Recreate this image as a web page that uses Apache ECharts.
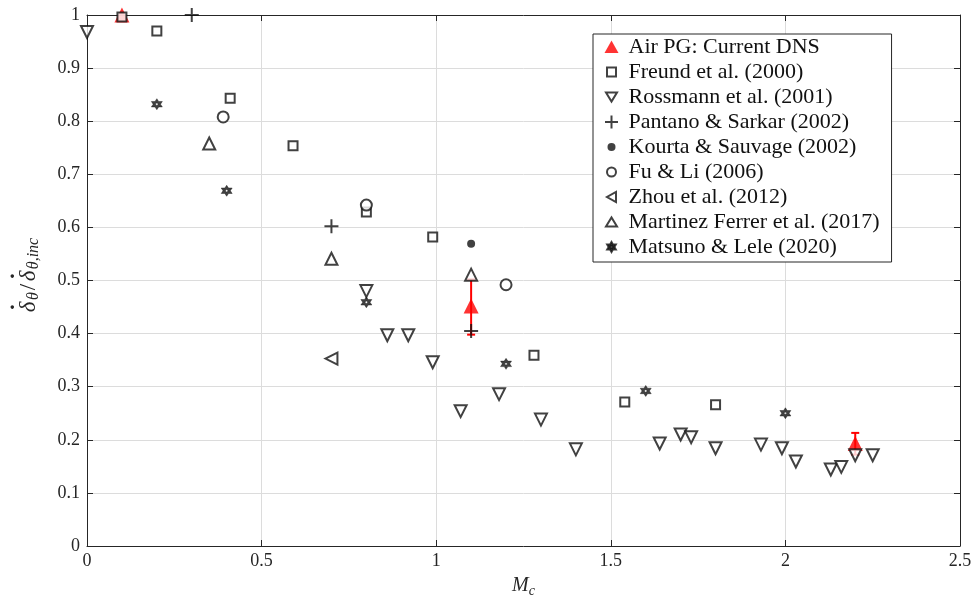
<!DOCTYPE html>
<html><head><meta charset="utf-8">
<script src="https://cdn.jsdelivr.net/npm/echarts@6/dist/echarts.min.js"></script>
<style>html,body{margin:0;padding:0;background:#fff}#c{width:978px;height:598px}</style>
</head><body><div id="c"></div>
<script>
// ---- data ----
var xTicks = [0, 0.5, 1, 1.5, 2, 2.5];
var yTicks = [0, 0.1, 0.2, 0.3, 0.4, 0.5, 0.6, 0.7, 0.8, 0.9, 1];
var airPG = [[0.1, 1.0], [1.1, 0.452], [2.2, 0.193]];
var airPGErr = [[1.1, 0.398, 0.502], [2.2, 0.172, 0.213]];
var freund = [[0.1, 0.996], [0.2, 0.970], [0.41, 0.843], [0.59, 0.754], [0.8, 0.629], [0.99, 0.582], [1.28, 0.359], [1.54, 0.271], [1.8, 0.266]];
var rossmann = [[0, 0.968], [0.8, 0.48], [0.86, 0.397], [0.92, 0.397], [0.99, 0.346], [1.07, 0.254], [1.18, 0.286], [1.3, 0.238], [1.4, 0.182], [1.64, 0.193], [1.7, 0.21], [1.73, 0.205], [1.8, 0.184], [1.93, 0.191], [1.99, 0.184], [2.03, 0.159], [2.13, 0.144], [2.16, 0.149], [2.2, 0.171], [2.25, 0.171]];
var pantano = [[0.3, 1.0], [0.7, 0.602], [1.1, 0.405]];
var kourta = [[1.1, 0.569]];
var fuLi = [[0.39, 0.808], [0.8, 0.642], [1.2, 0.492]];
var zhou = [[0.7, 0.353]];
var martinez = [[0.35, 0.758], [0.7, 0.541], [1.1, 0.511]];
var matsuno = [[0.2, 0.832], [0.4, 0.669], [0.8, 0.459], [1.2, 0.343], [1.6, 0.292], [2.0, 0.25]];
var names = ['Air PG: Current DNS', 'Freund et al. (2000)', 'Rossmann et al. (2001)', 'Pantano & Sarkar (2002)', 'Kourta & Sauvage (2002)', 'Fu & Li (2006)', 'Zhou et al. (2012)', 'Martinez Ferrer et al. (2017)', 'Matsuno & Lele (2020)'];

var serif = 'Liberation Serif';
var ink = '#111';
var txt = '#262626';
var hollow = {color: '#fff', borderColor: ink, borderWidth: 2};

function starPathStr(cx, cy, R, hole) {
  var r = R / Math.sqrt(3), pts = [], i, a;
  for (i = 0; i < 12; i++) {
    a = (-90 + i * 30) * Math.PI / 180;
    var rr = (i % 2 === 0) ? R : r;
    pts.push((cx + rr * Math.cos(a)).toFixed(2) + ',' + (cy + rr * Math.sin(a)).toFixed(2));
  }
  var s = 'M' + pts.join('L') + 'Z';
  var h = [];
  for (i = 5; i >= 0; i--) {
    a = (-90 + i * 60) * Math.PI / 180;
    h.push((cx + hole * Math.cos(a)).toFixed(2) + ',' + (cy + hole * Math.sin(a)).toFixed(2));
  }
  return s + 'M' + h.join('L') + 'Z';
}
var plusPath = 'path://M0,5L10,5M5,0L5,10';
var starPath = 'path://' + starPathStr(5, 5, 5, 1.1);

// legend icons in a padded 20x14 box (corner moves set the box)
var box = 'path://M0,0M20,14M0,0';
var legIcons = [
  'path://M0,0M20,14M1,13L15,13L8,0.5Z',
  box + 'M3.5,2.5L12.5,2.5L12.5,11.5L3.5,11.5Z',
  box + 'M2.5,2.5L13.5,2.5L8,11.5Z',
  box + 'M1.5,7L14.5,7M8,0.5L8,13.5',
  box + 'M4,7A4,4 0 1,0 12,7A4,4 0 1,0 4,7Z',
  box + 'M3.5,7A4.5,4.5 0 1,0 12.5,7A4.5,4.5 0 1,0 3.5,7Z',
  box + 'M12.5,2L12.5,12L3.5,7Z',
  box + 'M2.5,11.5L13.5,11.5L8,2.5Z',
  box + starPathStr(8, 7, 5, 1.1)
];

function sc(name, data, sym, size, style, rot) {
  return {type: 'scatter', name: name, data: data, symbol: sym, symbolSize: size,
    symbolRotate: rot || 0, itemStyle: style, xAxisIndex: 0, yAxisIndex: 0, z: 3};
}

var chart = echarts.init(document.getElementById('c'));
var axisLineStyle = {color: '#262626', width: 1};
var yName = '{dt|·}{g1|}{dt|·}{g2|}\n{a|δ}{b1|θ}{s|/}{a|δ}{b2|θ,inc}';
chart.setOption({
  animation: false,
  backgroundColor: '#fff',
  grid: {left: 87, right: 18, top: 15, bottom: 52, containLabel: false, outerBoundsMode: 'none'},
  xAxis: [{
    type: 'value', min: 0, max: 2.5, interval: 0.5, position: 'bottom',
    axisLine: {show: true, onZero: false, lineStyle: axisLineStyle},
    axisTick: {show: true, inside: true, length: 6, lineStyle: axisLineStyle},
    axisLabel: {fontFamily: serif, fontSize: 18, color: txt, margin: 6,
      formatter: function (v) { return xTicks.indexOf(v) >= 0 ? String(v) : ''; }},
    splitLine: {show: true, lineStyle: {color: '#dcdcdc', width: 1}},
    name: '{m|M}{s|c}', nameLocation: 'middle', nameGap: 28,
    nameTextStyle: {rich: {
      m: {fontFamily: serif, fontStyle: 'italic', fontSize: 20, color: txt},
      s: {fontFamily: serif, fontStyle: 'italic', fontSize: 14, color: txt, padding: [10, 0, 0, 0]}
    }}
  }, {
    type: 'value', min: 0, max: 2.5, interval: 0.5, position: 'top',
    axisLine: {show: true, onZero: false, lineStyle: axisLineStyle},
    axisTick: {show: true, inside: true, length: 6, lineStyle: axisLineStyle},
    axisLabel: {show: false}, splitLine: {show: false}
  }],
  yAxis: [{
    type: 'value', min: 0, max: 1, interval: 0.1, position: 'left',
    axisLine: {show: true, onZero: false, lineStyle: axisLineStyle},
    axisTick: {show: true, inside: true, length: 6, lineStyle: axisLineStyle},
    axisLabel: {fontFamily: serif, fontSize: 18, color: txt, margin: 7,
      formatter: function (v) { var r = Math.round(v * 10) / 10; return yTicks.indexOf(r) >= 0 ? String(r) : ''; }},
    splitLine: {show: true, lineStyle: {color: '#dcdcdc', width: 1}},
    name: yName, nameLocation: 'middle', nameGap: 45, nameRotate: 90,
    nameTextStyle: {padding: [0, 0, 0, 10], rich: {
      dt: {fontFamily: serif, fontSize: 22, fontWeight: 'bold', color: txt, width: 13, align: 'center', lineHeight: 4, verticalAlign: 'middle'},
      g1: {width: 18, lineHeight: 4},
      g2: {width: 32, lineHeight: 4},
      a: {fontFamily: serif, fontStyle: 'italic', fontSize: 23, color: txt, width: 13, align: 'center'},
      s: {fontFamily: serif, fontSize: 23, color: txt, width: 9, align: 'center'},
      b1: {fontFamily: serif, fontStyle: 'italic', fontSize: 16, color: txt, width: 9, align: 'left', padding: [11, 0, 0, 0]},
      b2: {fontFamily: serif, fontStyle: 'italic', fontSize: 16, color: txt, width: 32, align: 'left', padding: [11, 0, 0, 0]}
    }}
  }, {
    type: 'value', min: 0, max: 1, interval: 0.1, position: 'right',
    axisLine: {show: true, onZero: false, lineStyle: axisLineStyle},
    axisTick: {show: true, inside: true, length: 6, lineStyle: axisLineStyle},
    axisLabel: {show: false}, splitLine: {show: false}
  }],
  legend: {
    data: names.map(function (n, i) { return {name: n, icon: legIcons[i]}; }),
    orient: 'vertical', left: 593, top: 34,
    itemWidth: 20, itemHeight: 14, itemGap: 3,
    padding: [2, 12, 4, 8],
    backgroundColor: '#fff', borderColor: '#262626', borderWidth: 1, borderRadius: 0,
    textStyle: {fontFamily: serif, fontSize: 22, color: ink, lineHeight: 22}
  },
  series: [
    sc(names[0], airPG, 'triangle', 15, {color: '#ff0000'}),
    {type: 'custom', name: 'err', data: airPGErr, z: 2,
      renderItem: function (params, api) {
        var x = api.value(0), lo = api.value(1), hi = api.value(2);
        var pLo = api.coord([x, lo]), pHi = api.coord([x, hi]);
        var w = 4;
        var st = {stroke: '#ff0000', lineWidth: 2};
        return {type: 'group', children: [
          {type: 'line', shape: {x1: pLo[0], y1: pLo[1], x2: pHi[0], y2: pHi[1]}, style: st},
          {type: 'line', shape: {x1: pLo[0] - w, y1: pLo[1], x2: pLo[0] + w, y2: pLo[1]}, style: st},
          {type: 'line', shape: {x1: pHi[0] - w, y1: pHi[1], x2: pHi[0] + w, y2: pHi[1]}, style: st}
        ]};
      }},
    sc(names[1], freund, 'rect', 9, hollow),
    sc(names[2], rossmann, 'triangle', 12, hollow, 180),
    sc(names[3], pantano, plusPath, 14, {color: 'none', borderColor: ink, borderWidth: 2}),
    sc(names[4], kourta, 'circle', 8, {color: ink}),
    sc(names[5], fuLi, 'circle', 11, hollow),
    sc(names[6], zhou, 'triangle', 12, hollow, 90),
    sc(names[7], martinez, 'triangle', 12, hollow),
    sc(names[8], matsuno, starPath, 11, {color: ink, borderColor: ink, borderWidth: 0.5})
  ]
});
</script></body></html>
